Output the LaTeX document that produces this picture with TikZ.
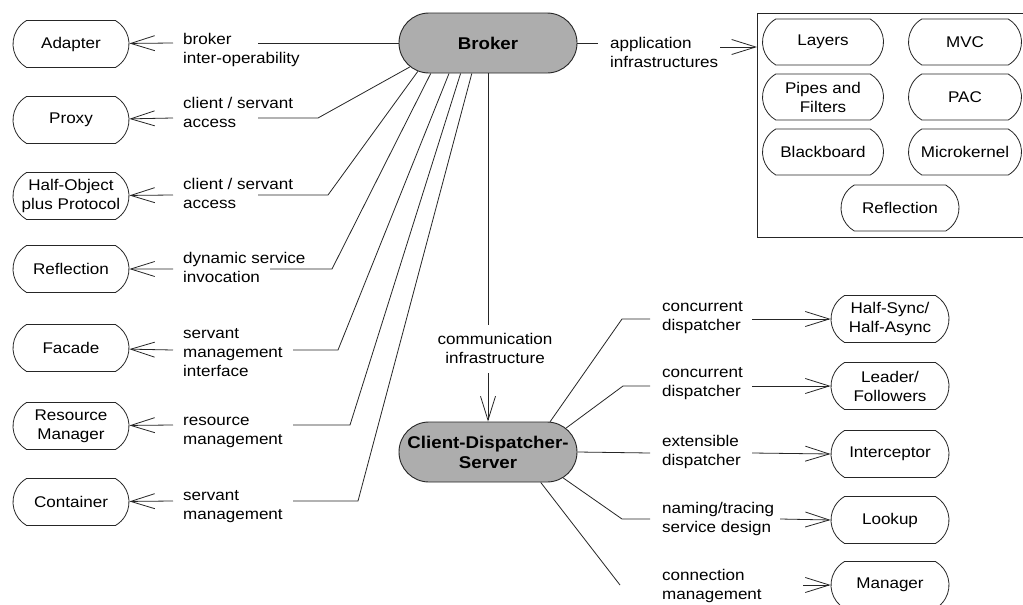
\documentclass[tikz,border=0pt]{standalone}
\usepackage{fontspec}
\setmainfont{Liberation Sans}[FakeStretch=1.1]
\usetikzlibrary{arrows.meta,shapes.misc}
\newcommand\lblfont{\fontsize{15.5}{19}\selectfont}
\newcommand\corefont{\fontsize{17}{20}\selectfont\bfseries}
\begin{document}
\begin{tikzpicture}[x=1pt,y=-1pt,
  pat/.style={rounded rectangle, rounded rectangle arc length=120, draw=black!85, line width=0.8pt,
    minimum width=118pt, minimum height=47pt, inner sep=1pt, align=center, font=\lblfont},
  core/.style={rounded rectangle, draw=black!85, fill=black!32, line width=0.9pt,
    minimum width=180pt, minimum height=60pt, inner sep=1pt, align=center, font=\corefont},
  lab/.style={align=left, inner sep=0pt, anchor=west, font=\lblfont},
  clab/.style={align=center, inner sep=0pt, font=\lblfont},
  conn/.style={line width=0.8pt, draw=black!85},
  arr/.style={conn, -{Straight Barb[length=24pt,width=15pt]}}]
\useasboundingbox (0,0) rectangle (1023,605);
\fill[white] (0,0) rectangle (1023,605);
\clip (0,0) rectangle (1023,605);

% core nodes
\node[core] (broker) at (488,43) {Broker};
\node[core] (cds) at (488,452) {Client-Dispatcher-\\Server};

% left column
\node[pat] (adapter)   at (71,44)  {Adapter};
\node[pat] (proxy)     at (71,120) {Proxy};
\node[pat] (hop)       at (71,196) {Half-Object\\plus Protocol};
\node[pat] (refl)      at (71,269) {Reflection};
\node[pat] (facade)    at (71,348) {Facade};
\node[pat] (resmgr)    at (71,426) {Resource\\Manager};
\node[pat] (container) at (71,502) {Container};

% left labels
\node[lab] (lA) at (183,49.5)  {broker\\inter-operability};
\node[lab] (lB) at (183,112.5) {client / servant\\access};
\node[lab] (lC) at (183,193)   {client / servant\\access};
\node[lab] (lD) at (183,267.5) {dynamic service\\invocation};
\node[lab] (lE) at (183,353)   {servant\\management\\interface};
\node[lab] (lF) at (183,432)   {resource\\management};
\node[lab] (lG) at (183,506.5) {servant\\management};

% arrow tails and line starts (left)
\coordinate (tA) at (173,43);  \coordinate (sA) at (258,43);
\coordinate (tB) at (173,118); \coordinate (sB) at (258,118); \coordinate (bB) at (318,118);
\coordinate (tC) at (173,195); \coordinate (sC) at (258,195); \coordinate (bC) at (328,195);
\coordinate (tD) at (173,269); \coordinate (sD) at (270,269); \coordinate (bD) at (332,269);
\coordinate (tE) at (173,350); \coordinate (sE) at (293,350); \coordinate (bE) at (338,350);
\coordinate (tF) at (173,425); \coordinate (sF) at (293,425); \coordinate (bF) at (350,425);
\coordinate (tG) at (173,501); \coordinate (sG) at (293,501); \coordinate (bG) at (358,501);

\draw[arr] (tA) -- (adapter);
\draw[arr] (tB) -- (proxy);
\draw[arr] (tC) -- (hop);
\draw[arr] (tD) -- (refl);
\draw[arr] (tE) -- (facade);
\draw[arr] (tF) -- (resmgr);
\draw[arr] (tG) -- (container);

\draw[conn] (sA) -- (broker.west);
\draw[conn] (sB) -- (bB) -- (broker.197);
\draw[conn] (sC) -- (bC) -- (broker.202);
\draw[conn] (sD) -- (bD) -- (broker.208);
\draw[conn] (sE) -- (bE) -- (broker.218);
\draw[conn] (sF) -- (bF) -- (broker.228);
\draw[conn] (sG) -- (bG) -- (broker.242);

% application infrastructures box
\node[draw=black!85, line width=0.9pt, minimum width=290pt, minimum height=224pt, anchor=north west, inner sep=0pt] (box) at (757,13) {};
\node[pat, minimum width=123pt, minimum height=46pt] (layers) at (823,42)  {Layers};
\node[pat, minimum width=115pt, minimum height=46pt] (mvc)    at (965,42)  {MVC};
\node[pat, minimum width=123pt, minimum height=46pt] (pipes)  at (823,97)  {Pipes and\\Filters};
\node[pat, minimum width=115pt, minimum height=46pt] (pac)    at (965,97)  {PAC};
\node[pat, minimum width=123pt, minimum height=46pt] (bb)     at (823,152) {Blackboard};
\node[pat, minimum width=115pt, minimum height=46pt] (mk)     at (965,152) {Microkernel};
\node[pat, minimum width=120pt, minimum height=46pt] (refl2)  at (900,208) {Reflection};

\node[lab] (lApp) at (610,52.5) {application\\infrastructures};
\coordinate (a1) at (598,43);
\coordinate (a2) at (720,47);
\draw[conn] (broker.east) -- (a1);
\draw[arr] (a2) -- (a2 -| box.west);

% communication infrastructure
\node[clab] (lComm) at (495,348) {communication\\infrastructure};
\coordinate (v1) at (488,325);
\coordinate (v2) at (488,373);
\draw[conn] (broker.south) -- (v1);
\draw[arr] (v2) -- (cds.north);

% right column
\node[pat, minimum width=120pt] (hs)   at (890,319) {Half-Sync/\\Half-Async};
\node[pat, minimum width=120pt] (lf)   at (890,386) {Leader/\\Followers};
\node[pat, minimum width=120pt] (ic)   at (890,454) {Interceptor};
\node[pat, minimum width=120pt] (lk)   at (890,520) {Lookup};
\node[pat, minimum width=120pt] (mgr)  at (890,585) {Manager};

\node[lab] (r1) at (662,318) {concurrent\\dispatcher};
\node[lab] (r2) at (662,384) {concurrent\\dispatcher};
\node[lab] (r3) at (662,452) {extensible\\dispatcher};
\node[lab] (r4) at (662,519) {naming/tracing\\service design};
\node[lab] (r5) at (662,586) {connection\\management};

\coordinate (c1) at (622,319); \coordinate (e1) at (650,319); \coordinate (f1) at (752,319);
\coordinate (c2) at (623,386); \coordinate (e2) at (650,386); \coordinate (f2) at (752,386);
\coordinate (e3) at (650,453); \coordinate (f3) at (752,453);
\coordinate (c4) at (622,519); \coordinate (e4) at (650,519); \coordinate (f4) at (780,519);
\coordinate (c5) at (620,585); \coordinate (f5) at (803,585);

\draw[conn] (cds.26.6) -- (c1) -- (e1);
\draw[conn] (cds.17.6) -- (c2) -- (e2);
\draw[conn] (cds.east) -- (e3);
\draw[conn] (cds.341) -- (c4) -- (e4);
\draw[conn] (cds.330.6) -- (c5);

\draw[arr] (f1) -- (hs.west);
\draw[arr] (f2) -- (lf.west);
\draw[arr] (f3) -- (ic.west);
\draw[arr] (f4) -- (lk.west);
\draw[arr] (f5) -- (mgr.west);
\end{tikzpicture}
\end{document}
